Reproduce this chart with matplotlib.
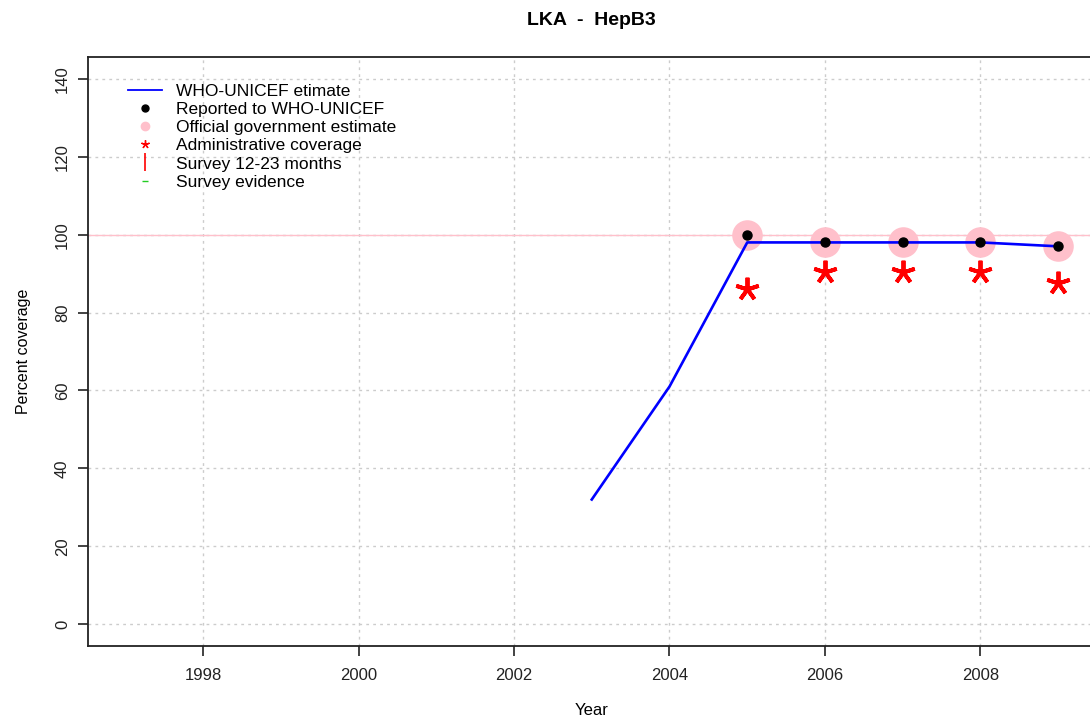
import numpy as np
import matplotlib.pyplot as plt
from matplotlib.lines import Line2D

plt.rcParams['font.family'] = ['Liberation Sans', 'DejaVu Sans']

# WHO-UNICEF estimate
est_years = [2003, 2004, 2005, 2006, 2007, 2008, 2009]
est_vals = [32, 61, 98, 98, 98, 98, 97]

# reported / official government estimate
rep_years = [2005, 2006, 2007, 2008, 2009]
rep_vals = [100, 98, 98, 98, 97]
gov_vals = [100, 98, 98, 98, 97]

# administrative coverage
adm_years = [2005, 2006, 2007, 2008, 2009]
adm_vals = [86, 90.5, 90.5, 90.5, 87.5]

xticks = [1998, 2000, 2002, 2004, 2006, 2008]
yticks = [0, 20, 40, 60, 80, 100, 120, 140]

fig = plt.figure(figsize=(10.9, 7.19), dpi=100)
ax = fig.add_axes([88/1090, 73/719, (1095.5-88)/1090, (646-57)/719])

ax.set_xlim(1996.52, 2009.48)
ax.set_ylim(-5.6, 145.6)

for x in xticks:
    ax.axvline(x, color='#cccccc', lw=1, ls=(0, (2, 3)), zorder=0)
for y in yticks:
    ax.axhline(y, color='#cccccc', lw=1, ls=(0, (2, 3)), zorder=0)
ax.axhline(100, color='pink', lw=1, zorder=1)

ax.plot(rep_years, gov_vals, 'o', color='pink', ms=22, mec='none', zorder=2)
ax.plot(est_years, est_vals, color='blue', lw=1.9, zorder=3)
ax.plot(rep_years, rep_vals, 'o', color='black', ms=6.5, zorder=4)
ax.plot(adm_years, adm_vals, marker=(5, 2, 0), ls='none', color='red', mec='red',
        ms=17, mew=2.8, zorder=4)

ax.set_xticks(xticks)
ax.set_yticks(yticks)
ax.tick_params(direction='out', length=7, width=1.2, colors='#222222', labelsize=12, pad=9)
ax.tick_params(axis='y', pad=6)
for lab in ax.get_yticklabels():
    lab.set_rotation(90)
    lab.set_va('center')
for s in ax.spines.values():
    s.set_linewidth(1.3)
    s.set_color('#222222')

ax.set_xlabel('Year', fontsize=12, labelpad=14)
ax.set_ylabel('Percent coverage', fontsize=11.5, labelpad=17)
ax.set_title('LKA  -  HepB3', fontsize=14, fontweight='bold', pad=23)

handles = [
    Line2D([], [], color='blue', lw=1.3),
    Line2D([], [], color='black', marker='o', ls='none', ms=5),
    Line2D([], [], color='pink', marker='o', ls='none', ms=6),
    Line2D([], [], color='red', marker=(5, 2, 0), ls='none', ms=6, mew=1),
    Line2D([], [], color='red', marker='|', ls='none', ms=13, mew=1.2),
    Line2D([], [], color='#22cc22', marker='_', ls='none', ms=4, mew=1),
]
labels = ['WHO-UNICEF etimate', 'Reported to WHO-UNICEF', 'Official government estimate',
          'Administrative coverage', 'Survey 12-23 months', 'Survey evidence']
ax.legend(handles, labels, loc='upper left', bbox_to_anchor=(128/1090, (719-84)/719),
          bbox_transform=fig.transFigure, frameon=False, fontsize=12.5,
          handlelength=1.95, handletextpad=0.8, labelspacing=0.17, borderpad=0,
          borderaxespad=0)

fig.savefig('out.png', dpi=100)
